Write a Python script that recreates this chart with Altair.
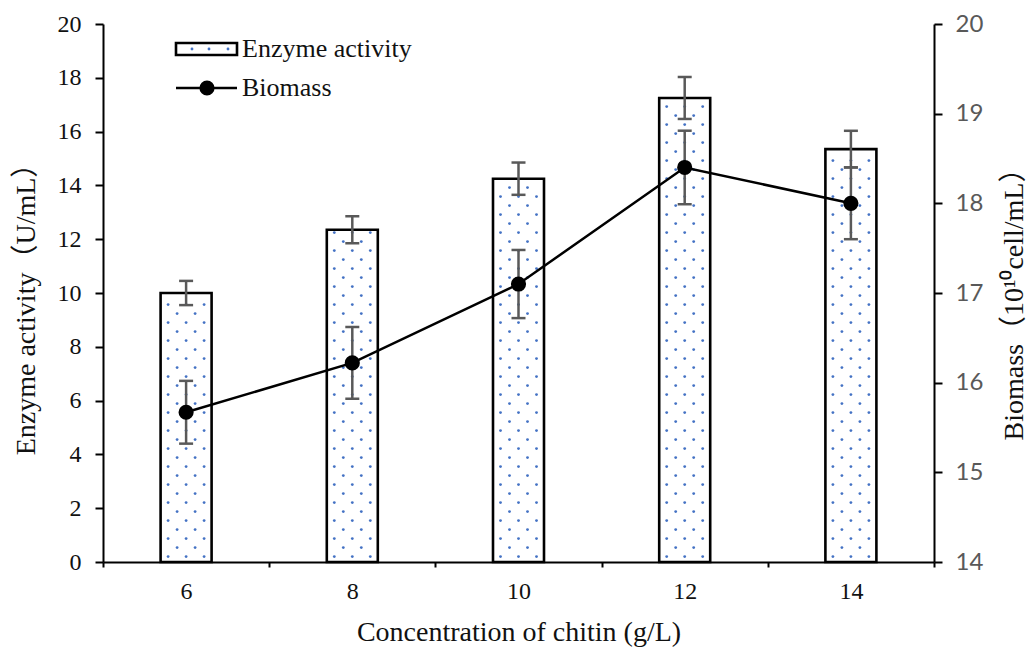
import altair as alt
import pandas as pd

# ---- data ----
conc = [6, 8, 10, 12, 14]
enzyme = [10.0, 12.35, 14.25, 17.25, 15.35]
enzyme_err = [0.45, 0.5, 0.6, 0.78, 0.68]
biomass = [15.67, 16.22, 17.1, 18.4, 18.0]
biomass_err = [0.35, 0.4, 0.38, 0.41, 0.4]

W, H = 831, 538
XMIN, XMAX = 5, 15
PX_X = W / (XMAX - XMIN)          # pixels per x unit
PX_Y = H / 20.0                   # pixels per left-axis unit
HALF = 25.5 / PX_X                # half bar width in x units

SERIF = "Liberation Serif, Noto Sans CJK SC"
SANS = "Lato, Liberation Sans"

df = pd.DataFrame({
    "conc": conc,
    "enzyme": enzyme,
    "enzyme_err": enzyme_err,
    "biomass": biomass,
    "biomass_err": biomass_err,
})
df["x_lo"] = df["conc"] - HALF
df["x_hi"] = df["conc"] + HALF
df["e_lo"] = df["enzyme"] - df["enzyme_err"]
df["e_hi"] = df["enzyme"] + df["enzyme_err"]
df["b_lo"] = df["biomass"] - df["biomass_err"]
df["b_hi"] = df["biomass"] + df["biomass_err"]
df["zero"] = 0.0

# dotted fill pattern derived from the bar heights
rows = []
for c, v in zip(conc, enzyme):
    k = 0
    yv = 0.2
    while yv < v - 0.1:
        offs = [-18, 0, 18] if k % 2 == 0 else [-9, 9]
        for o in offs:
            rows.append({"conc": c + o / PX_X, "py": yv})
        yv += 9 / PX_Y
        k += 1
dots = pd.DataFrame(rows)

xs = alt.Scale(domain=[XMIN, XMAX], nice=False, zero=False)
yl = alt.Scale(domain=[0, 20], nice=False, zero=False)
yr = alt.Scale(domain=[14, 20], nice=False, zero=False)

X_TITLE = "Concentration of chitin (g/L)"
YL_TITLE = "Enzyme activity（U/mL）"
YR_TITLE = "Biomass（10¹⁰cell/mL）"
TEXT = "#111"

x_axis = alt.Axis(
    values=[5, 7, 9, 11, 13, 15],
    labelExpr="datum.value < 15 ? datum.value + 1 : ''",
    labelOffset=PX_X,
    labelOverlap=False, labelBound=False, labelFlush=False,
    grid=False, tickSize=5, tickWidth=2, tickColor="black",
    domainColor="black", domainWidth=2,
    labelFont=SERIF, labelFontSize=24, labelColor=TEXT, labelPadding=12,
    titleFont=SERIF, titleFontSize=28, titleFontWeight="normal", titleColor=TEXT,
    titleX=W / 2, titleY=70, titleBaseline="middle",
)

yl_axis = alt.Axis(
    values=list(range(0, 21, 2)),
    grid=False, tickSize=8, tickWidth=2, tickColor="black",
    domainColor="black", domainWidth=2,
    labelFont=SERIF, labelFontSize=24, labelColor=TEXT, labelPadding=14,
    titleFont=SERIF, titleFontSize=28, titleFontWeight="normal", titleColor=TEXT,
    titleAngle=270, titleX=-77, titleY=278, titleBaseline="middle",
)

yr_axis = alt.Axis(
    orient="right",
    values=list(range(14, 21)),
    grid=False, tickSize=8, tickWidth=2, tickColor="black",
    domainColor="black", domainWidth=2,
    labelFont=SANS, labelFontSize=24, labelColor="#595959", labelPadding=13,
    titleFont=SERIF, titleFontSize=28, titleFontWeight="normal", titleColor=TEXT,
    titleAngle=270, titleX=80, titleY=273, titleBaseline="middle",
)


def X(field):
    return alt.X(field, scale=xs, axis=x_axis, title=X_TITLE)


def YL(field):
    return alt.Y(field, scale=yl, axis=yl_axis, title=YL_TITLE)


def YR(field):
    return alt.Y(field, scale=yr, axis=yr_axis, title=YR_TITLE)


base = alt.Chart(df)
ERR = "#595959"
DOT = "#4472c4"

bars = base.mark_rect(fill="white", stroke="black", strokeWidth=2.6).encode(
    x=X("x_lo:Q"), x2="x_hi:Q", y=YL("enzyme:Q"), y2="zero:Q",
)
pattern = alt.Chart(dots).mark_circle(size=8, color=DOT, opacity=1).encode(
    x=X("conc:Q"), y=YL("py:Q"),
)
e_rule = base.mark_rule(color=ERR, strokeWidth=2.5).encode(
    x=X("conc:Q"), y=YL("e_lo:Q"), y2="e_hi:Q",
)
e_cap_hi = base.mark_tick(orient="horizontal", size=14, thickness=2.5, color=ERR, opacity=1).encode(
    x=X("conc:Q"), y=YL("e_hi:Q"),
)
e_cap_lo = base.mark_tick(orient="horizontal", size=14, thickness=2.5, color=ERR, opacity=1).encode(
    x=X("conc:Q"), y=YL("e_lo:Q"),
)
left = alt.layer(bars, pattern, e_rule, e_cap_hi, e_cap_lo)

line = base.mark_line(color="black", strokeWidth=2.5).encode(
    x=X("conc:Q"), y=YR("biomass:Q"),
)
b_rule = base.mark_rule(color=ERR, strokeWidth=2.5).encode(
    x=X("conc:Q"), y=YR("b_lo:Q"), y2="b_hi:Q",
)
b_cap_hi = base.mark_tick(orient="horizontal", size=14, thickness=2.5, color=ERR, opacity=1).encode(
    x=X("conc:Q"), y=YR("b_hi:Q"),
)
b_cap_lo = base.mark_tick(orient="horizontal", size=14, thickness=2.5, color=ERR, opacity=1).encode(
    x=X("conc:Q"), y=YR("b_lo:Q"),
)
points = base.mark_circle(size=230, color="black", opacity=1).encode(
    x=X("conc:Q"), y=YR("biomass:Q"),
)
right = alt.layer(line, b_rule, b_cap_hi, b_cap_lo, points)

# ---- manual legend ----
one = pd.DataFrame({"k": [0]})
lg = alt.Chart(one)
leg_rect = lg.mark_rect(fill="white", stroke="black", strokeWidth=2.6).encode(
    x=alt.value(73), x2=alt.value(134), y=alt.value(19), y2=alt.value(31)
)
leg_dots = [
    lg.mark_circle(size=8, color=DOT, opacity=1).encode(x=alt.value(xv), y=alt.value(25))
    for xv in (89, 106, 125)
]
leg_text1 = lg.mark_text(align="left", baseline="middle", font=SERIF, fontSize=26, color=TEXT).encode(
    x=alt.value(139), y=alt.value(25), text=alt.value("Enzyme activity")
)
leg_line = lg.mark_rule(color="black", strokeWidth=2.5).encode(
    x=alt.value(73), x2=alt.value(134), y=alt.value(64)
)
leg_pt = lg.mark_circle(size=230, color="black", opacity=1).encode(
    x=alt.value(104), y=alt.value(64)
)
leg_text2 = lg.mark_text(align="left", baseline="middle", font=SERIF, fontSize=26, color=TEXT).encode(
    x=alt.value(139), y=alt.value(64), text=alt.value("Biomass")
)
legend = alt.layer(leg_rect, *leg_dots, leg_text1, leg_line, leg_pt, leg_text2)

chart = alt.layer(left, right, legend).resolve_scale(y="independent").properties(
    width=W, height=H,
    autosize=alt.AutoSizeParams(type="none"),
    padding={"left": 103, "top": 24, "right": 95, "bottom": 87},
    background="white",
).configure_view(stroke=None)

chart.save("out.html", embed_options={"renderer": "svg", "actions": False})
